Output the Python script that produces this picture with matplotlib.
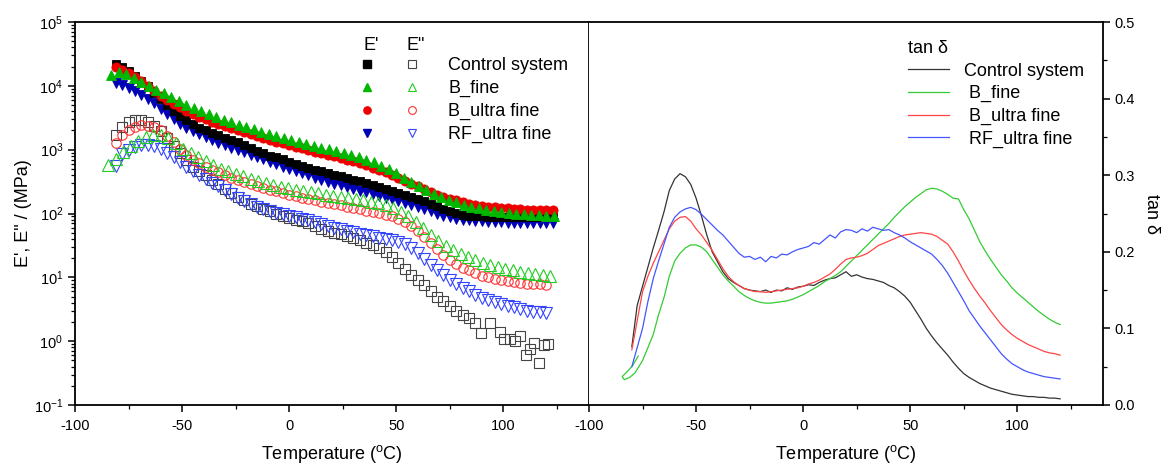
import numpy as np
import matplotlib as mpl
import matplotlib.pyplot as plt
from matplotlib.lines import Line2D
from matplotlib.legend_handler import HandlerTuple
from matplotlib.ticker import MultipleLocator, LogLocator

mpl.rcParams.update({
    "font.family": ["Liberation Sans", "DejaVu Sans"],
    "mathtext.fontset": "custom",
    "mathtext.rm": "Liberation Sans",
    "mathtext.it": "Liberation Sans:italic",
    "font.size": 13,
    "xtick.labelsize": 10.5,
    "ytick.labelsize": 10.5,
    "axes.linewidth": 1.3,
    "axes.unicode_minus": False,
})

# =========================
# Data
# =========================
SERIES = ["Control system", "B_fine", "B_ultra fine", "RF_ultra fine"]

# storage modulus E' (MPa), sampled every 3 degC from -81 to 123
T_storage = np.arange(-81, 124, 3)
E1_control = [22000, 19500, 17000, 14500, 12000, 9800, 7800, 6200, 5000, 4100,
              3400, 2900, 2500, 2200, 2000, 1850, 1700, 1550, 1420, 1300,
              1180, 1060, 960, 880, 810, 760, 710, 650, 600, 560,
              520, 485, 455, 425, 400, 380, 360, 340, 320, 300,
              280, 262, 245, 228, 213, 198, 184, 170, 156, 143,
              130, 118, 108, 101, 96, 93, 91, 90, 89, 89,
              88, 88, 88, 88, 88, 88, 88, 88, 88]
E1_bultra = [20000, 18000, 16000, 14000, 12000, 10000, 8400, 7000, 6000, 5200,
             4600, 4100, 3650, 3300, 3000, 2750, 2520, 2320, 2150, 2000,
             1860, 1740, 1620, 1520, 1420, 1340, 1260, 1180, 1110, 1050,
             990, 930, 880, 830, 785, 740, 700, 655, 610, 565,
             520, 480, 440, 400, 360, 325, 295, 265, 240, 218,
             198, 182, 170, 160, 151, 143, 137, 132, 128, 125,
             122, 120, 118, 116, 115, 114, 113, 112, 112]
E1_rf = [11200, 10200, 9200, 8200, 7300, 6300, 5300, 4400, 3600, 3000,
         2550, 2200, 1950, 1750, 1580, 1420, 1290, 1180, 1080, 990,
         910, 840, 770, 705, 645, 590, 540, 495, 460, 425,
         395, 365, 340, 315, 295, 275, 258, 242, 228, 214,
         201, 189, 177, 166, 155, 145, 136, 126, 117, 108,
         100, 93, 87, 83, 80, 78, 76, 75, 74, 73,
         73, 72, 72, 72, 72, 72, 72, 72, 72]

# B_fine E' sampled every 3.5 degC from -83
T_storage_bfine = np.arange(-83, 124, 3.5)
E1_bfine = [15000, 16500, 15500, 13500, 11500, 9800, 8600, 7600, 6700, 5800,
            5100, 4500, 4000, 3600, 3250, 2950, 2700, 2450, 2250, 2080,
            1920, 1780, 1650, 1530, 1420, 1330, 1240, 1160, 1080, 1010,
            950, 890, 830, 770, 700, 630, 560, 490, 425, 365,
            315, 270, 235, 205, 182, 164, 150, 138, 128, 120,
            114, 109, 105, 102, 99, 97, 95, 94, 93, 92]

# loss modulus E'' (MPa)
T_loss = np.arange(-81, 121, 3)
E2_bultra = [1250, 1700, 2050, 2300, 2400, 2380, 2250, 2000, 1650, 1300,
             1020, 830, 700, 610, 540, 485, 440, 400, 365, 335,
             310, 288, 268, 250, 235, 222, 210, 198, 188, 178,
             169, 161, 153, 146, 140, 134, 128, 122, 116, 111,
             106, 101, 96, 90, 82, 73, 63, 53, 43, 35,
             28, 22.5, 18.5, 16, 14, 12.8, 11.5, 10.6, 10, 9.5,
             9.1, 8.7, 8.4, 8.2, 8.0, 7.9, 7.8, 7.7]
E2_rf = [560, 850, 1000, 1100, 1170, 1180, 1130, 1020, 880, 760,
         640, 540, 460, 400, 350, 305, 265, 230, 200, 175,
         155, 140, 128, 118, 110, 103, 97, 92, 88, 83,
         78, 73, 68, 63, 60, 57, 54, 51, 48, 46,
         44, 42, 40, 38, 36, 33, 29, 24, 19.5, 15.5,
         13, 11, 9.2, 7.8, 6.8, 6, 5.3, 4.8, 4.4, 4.1,
         3.8, 3.6, 3.4, 3.2, 3.0, 2.9, 2.85, 2.8]

T_loss_bfine = np.arange(-84.5, 123, 3.5)
E2_bfine = [570, 720, 920, 1150, 1380, 1580, 1720, 1700, 1500, 1250,
            1030, 890, 760, 660, 575, 505, 455, 415, 380, 350,
            322, 300, 280, 262, 248, 237, 226, 216, 206, 197,
            189, 182, 176, 168, 160, 153, 146, 136, 124, 105,
            90, 74, 60, 46, 37, 31, 27, 23.5, 21, 18.5,
            16.8, 15.5, 14.5, 13.6, 12.8, 12.2, 11.6, 11.1, 10.8, 10.5]

# control E'' : regular up to 87 degC, scattered points after
T_loss_control = np.concatenate([
    np.arange(-81, 88, 3),
    [89.5, 94, 98.5, 100.5, 103, 105.5, 108, 110.5, 112.5, 114.5, 116.5, 119, 121],
])
E2_control = [1700, 2300, 2750, 2900, 2880, 2700, 2350, 1950, 1500, 1150,
              900, 680, 540, 460, 400, 340, 290, 245, 210, 182,
              160, 143, 130, 118, 108, 100, 93, 86, 80, 75,
              70, 64, 58, 54, 50, 47, 44, 41, 38, 35,
              32, 29, 25, 21, 17, 13.5, 11, 9, 7.5, 6,
              5, 4.3, 3.6, 3, 2.6, 2.3, 1.9,
              1.35, 1.9, 1.4, 1.1, 1.1, 1.0, 1.2, 0.6, 0.76, 0.95, 0.45, 0.87, 0.9]

# tan delta, every 2.5 degC from -80 to 120
T_tan = np.arange(-80, 121, 2.5)
tan_control = [0.076, 0.13, 0.155, 0.18, 0.205, 0.228, 0.252, 0.28,
               0.295, 0.302, 0.298, 0.288, 0.27, 0.247, 0.222, 0.2,
               0.187, 0.174, 0.165, 0.16, 0.156, 0.152, 0.15, 0.149,
               0.148, 0.15, 0.147, 0.15, 0.149, 0.153, 0.151, 0.154,
               0.155, 0.157, 0.156, 0.16, 0.163, 0.165, 0.166, 0.17,
               0.174, 0.168, 0.17, 0.167, 0.165, 0.164, 0.162, 0.16,
               0.156, 0.153, 0.148, 0.142, 0.134, 0.123, 0.112, 0.1,
               0.09, 0.081, 0.073, 0.065, 0.056, 0.048, 0.041, 0.036,
               0.032, 0.028, 0.025, 0.022, 0.02, 0.018, 0.016, 0.014,
               0.013, 0.012, 0.011, 0.011, 0.01, 0.01, 0.009, 0.009,
               0.008]
tan_bultra = [0.072, 0.11, 0.148, 0.168, 0.185, 0.2, 0.215, 0.23,
              0.24, 0.245, 0.246, 0.24, 0.23, 0.222, 0.212, 0.202,
              0.19, 0.178, 0.168, 0.161, 0.156, 0.152, 0.15, 0.148,
              0.148, 0.147, 0.148, 0.149, 0.15, 0.151, 0.152, 0.153,
              0.155, 0.158, 0.16, 0.163, 0.167, 0.171, 0.177, 0.184,
              0.19, 0.192, 0.193, 0.195, 0.198, 0.203, 0.208, 0.211,
              0.214, 0.217, 0.22, 0.222, 0.223, 0.224, 0.225, 0.224,
              0.223, 0.22, 0.215, 0.21, 0.2, 0.188, 0.175, 0.163,
              0.152, 0.142, 0.133, 0.123, 0.114, 0.105, 0.098, 0.092,
              0.087, 0.083, 0.079, 0.076, 0.073, 0.07, 0.068, 0.067,
              0.065]
tan_rf = [0.05, 0.075, 0.1, 0.135, 0.165, 0.188, 0.21, 0.232,
          0.245, 0.252, 0.256, 0.258, 0.255, 0.249, 0.242, 0.235,
          0.228, 0.222, 0.214, 0.206, 0.198, 0.193, 0.194, 0.19,
          0.193, 0.187, 0.194, 0.192, 0.197, 0.196, 0.2, 0.203,
          0.205, 0.207, 0.212, 0.21, 0.216, 0.222, 0.218, 0.226,
          0.229, 0.228, 0.225, 0.23, 0.227, 0.232, 0.23, 0.228,
          0.229, 0.225, 0.222, 0.218, 0.213, 0.209, 0.205, 0.201,
          0.197, 0.19, 0.182, 0.172, 0.16, 0.148, 0.136, 0.123,
          0.113, 0.103, 0.094, 0.085, 0.076, 0.067, 0.06, 0.054,
          0.05, 0.046, 0.043, 0.041, 0.039, 0.037, 0.036, 0.035,
          0.034]

# B_fine starts with a small hook below -75 degC
T_tan_bfine = np.concatenate([[-77.0, -79.5, -82.0, -84.5, -83.5, -81.0, -78.5],
                              np.arange(-75, 121, 2.5)])
tan_bfine = [0.064, 0.052, 0.044, 0.037, 0.033, 0.036, 0.042,
             0.058, 0.075, 0.092, 0.118, 0.14, 0.168, 0.188, 0.198,
             0.205, 0.209, 0.209, 0.206, 0.2, 0.19, 0.18, 0.17,
             0.162, 0.155, 0.148, 0.143, 0.139, 0.136, 0.134, 0.133,
             0.133, 0.134, 0.135, 0.136, 0.138, 0.141, 0.144, 0.148,
             0.152, 0.156, 0.161, 0.165, 0.169, 0.174, 0.181, 0.188,
             0.195, 0.202, 0.209, 0.216, 0.223, 0.23, 0.237, 0.245,
             0.252, 0.259, 0.265, 0.271, 0.276, 0.281, 0.283, 0.282,
             0.279, 0.275, 0.27, 0.269, 0.255, 0.243, 0.228, 0.213,
             0.201, 0.19, 0.18, 0.17, 0.162, 0.153, 0.146, 0.14,
             0.134, 0.128, 0.122, 0.117, 0.112, 0.108, 0.105]

# =========================
# Styles
# =========================
FILLED = {
    "Control system": dict(marker="s", color="#000000", ms=6.0),
    "B_fine": dict(marker="^", color="#00B800", ms=7.6),
    "B_ultra fine": dict(marker="o", color="#EE0000", ms=6.6),
    "RF_ultra fine": dict(marker="v", color="#0000B4", ms=7.6),
}
OPEN = {
    "Control system": dict(marker="s", color="#444444", ms=6.6),
    "B_fine": dict(marker="^", color="#22CC22", ms=8.2),
    "B_ultra fine": dict(marker="o", color="#FF3333", ms=6.8),
    "RF_ultra fine": dict(marker="v", color="#3344FF", ms=8.2),
}
LINE_COLOR = {
    "Control system": "#333333",
    "B_fine": "#33CC33",
    "B_ultra fine": "#FF4444",
    "RF_ultra fine": "#4455FF",
}

W, H = 1164, 466
fig = plt.figure(figsize=(W / 100, H / 100), dpi=100)
ax1 = fig.add_axes([75 / W, 1 - 405 / H, 514 / W, 383 / H])
ax2 = fig.add_axes([589 / W, 1 - 405 / H, 514 / W, 383 / H])

# ---------- left: E', E'' ----------
storage = {
    "Control system": (T_storage, E1_control),
    "B_fine": (T_storage_bfine, E1_bfine),
    "B_ultra fine": (T_storage, E1_bultra),
    "RF_ultra fine": (T_storage, E1_rf),
}
loss = {
    "Control system": (T_loss_control, E2_control),
    "B_fine": (T_loss_bfine, E2_bfine),
    "B_ultra fine": (T_loss, E2_bultra),
    "RF_ultra fine": (T_loss, E2_rf),
}

for name in ["RF_ultra fine", "Control system", "B_ultra fine", "B_fine"]:
    t, v = storage[name]
    st = FILLED[name]
    ax1.plot(t, v, ls="none", marker=st["marker"], ms=st["ms"],
             mfc=st["color"], mec=st["color"], mew=0.6)

for name in ["Control system", "RF_ultra fine", "B_ultra fine", "B_fine"]:
    t, v = loss[name]
    st = OPEN[name]
    ax1.plot(t, v, ls="none", marker=st["marker"], ms=st["ms"],
             mfc="none", mec=st["color"], mew=0.8)

ax1.set_yscale("log")
ax1.set_ylim(0.1, 1e5)
ax1.set_xlim(-100, 140)
ax1.yaxis.set_major_locator(LogLocator(base=10, numticks=10))
ax1.yaxis.set_minor_locator(LogLocator(base=10, subs=np.arange(2, 10), numticks=20))
ax1.xaxis.set_major_locator(MultipleLocator(50))
ax1.xaxis.set_minor_locator(MultipleLocator(25))
ax1.set_xlabel("Temperature ($^{\\mathrm{o}}$C)", labelpad=7)
ax1.set_ylabel("E', E\" / (MPa)", labelpad=1)
ax1.tick_params(which="major", direction="out", length=5, width=1.1)
ax1.tick_params(which="minor", direction="out", length=3, width=0.9)
ax1.tick_params(axis="x", pad=5)

# legend: filled (E') and open (E'') marker per sample
handles = []
for name in SERIES:
    f, o = FILLED[name], OPEN[name]
    h1 = Line2D([], [], ls="none", marker=f["marker"], ms=5.2,
                mfc=f["color"], mec=f["color"])
    h2 = Line2D([], [], ls="none", marker=o["marker"], ms=5.6,
                mfc="none", mec=o["color"], mew=0.8)
    handles.append((h1, h2))
ax1.legend(handles, SERIES, handler_map={tuple: HandlerTuple(ndivide=None, pad=1.66)},
           loc="upper left", bbox_to_anchor=(0.5545, 0.908), frameon=False,
           borderpad=0, borderaxespad=0, handlelength=3.3, handletextpad=1.6,
           labelspacing=0.32, fontsize=13)
ax1.text(0.561, 0.938, "E'", transform=ax1.transAxes, ha="left", va="center", fontsize=13)
ax1.text(0.645, 0.938, "E\"", transform=ax1.transAxes, ha="left", va="center", fontsize=13)

# ---------- right: tan delta ----------
tan = {
    "Control system": (T_tan, tan_control),
    "B_fine": (T_tan_bfine, tan_bfine),
    "B_ultra fine": (T_tan, tan_bultra),
    "RF_ultra fine": (T_tan, tan_rf),
}
labels_tan = ["Control system", " B_fine", " B_ultra fine", " RF_ultra fine"]
for name, lab in zip(SERIES, labels_tan):
    t, v = tan[name]
    ax2.plot(t, v, color=LINE_COLOR[name], lw=0.9, label=lab)

ax2.set_xlim(-100, 140)
ax2.set_ylim(0, 0.5)
ax2.xaxis.set_major_locator(MultipleLocator(50))
ax2.xaxis.set_minor_locator(MultipleLocator(25))
ax2.yaxis.set_major_locator(MultipleLocator(0.1))
ax2.yaxis.set_minor_locator(MultipleLocator(0.05))
ax2.yaxis.set_major_formatter(mpl.ticker.FormatStrFormatter("%.1f"))
ax2.yaxis.tick_right()
ax2.yaxis.set_label_position("right")
ax2.spines["left"].set_visible(False)
ax2.tick_params(which="major", direction="out", length=5, width=1.1)
ax2.tick_params(which="minor", direction="out", length=3, width=0.9)
ax2.tick_params(axis="x", pad=5)
ax2.tick_params(axis="y", which="both", left=False)
ax2.set_xlabel("Temperature ($^{\\mathrm{o}}$C)", labelpad=7)
ax2.set_ylabel("tan \u03b4", rotation=270, labelpad=18)

leg2 = ax2.legend(loc="upper left", bbox_to_anchor=(0.62, 0.952), frameon=False,
                  borderpad=0, borderaxespad=0, handlelength=2.27, handletextpad=0.83,
                  labelspacing=0.3, fontsize=13, title="tan \u03b4",
                  title_fontsize=13, alignment="left")

fig.savefig("out.png", dpi=100)
